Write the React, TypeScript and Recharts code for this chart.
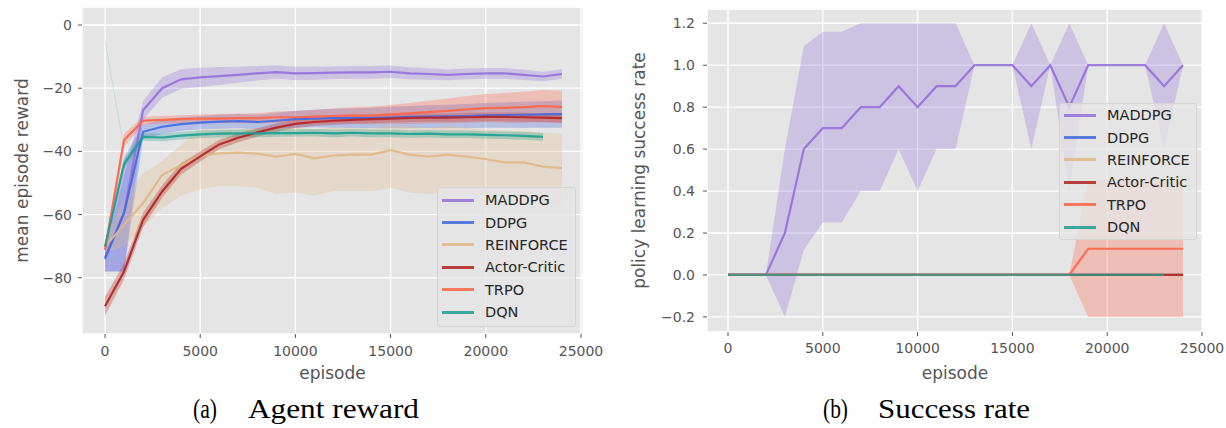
import {
  ComposedChart,
  Line,
  Area,
  XAxis,
  YAxis,
  CartesianGrid,
  Legend,
  Label,
} from "recharts";

const episodes = [0, 1000, 2000, 3000, 4000, 5000, 6000, 7000, 8000, 9000, 10000, 11000, 12000, 13000, 14000, 15000, 16000, 17000, 18000, 19000, 20000, 21000, 22000, 23000, 24000];

const seriesKeys = ["maddpg", "ddpg", "reinforce", "ac", "trpo", "dqn"];
const seriesNames = ["MADDPG", "DDPG", "REINFORCE", "Actor-Critic", "TRPO", "DQN"];
const seriesColors = ["#9370DB", "#4169E1", "#DEB887", "#B22222", "#FF6347", "#1F9E90"];

// (a) agent reward: mean and shaded band
const maddpgReward = [-73.5, -59.5, -27, -20, -17.2, -16.6, -16.2, -15.8, -15.3, -14.9, -15.3, -15.2, -15.1, -15, -15, -14.8, -15.3, -15.5, -15.8, -15.5, -15.3, -15.3, -15.8, -16.3, -15.5];
const maddpgRewardLo = [-78, -78, -30, -23, -20.2, -19.6, -19, -18.3, -17.6, -17, -17.4, -17.3, -17.1, -17, -17, -16.8, -17.2, -17.3, -17.5, -17.2, -17, -17, -17.4, -17.8, -17];
const maddpgRewardHi = [-70, -48, -24, -16.5, -14, -13.5, -13.3, -13.2, -13, -12.8, -13.2, -13.1, -13.1, -13, -13, -12.8, -13.4, -13.7, -14.1, -13.8, -13.6, -13.6, -14.2, -14.8, -14];

const ddpgReward = [-74, -59.5, -33.8, -32.2, -31.4, -30.9, -30.6, -30.4, -30.7, -30.3, -29.8, -29.6, -29.5, -29.5, -29.4, -29.3, -29.1, -29, -28.9, -28.8, -28.6, -28.5, -28.4, -28.3, -28.2];
const ddpgRewardLo = [-78, -78, -36, -34.5, -33.5, -33, -32.8, -32.7, -33, -32.8, -32.5, -32.4, -32.5, -32.6, -32.6, -32.7, -32.6, -32.6, -32.6, -32.6, -32.5, -32.5, -32.5, -32.5, -32.5];
const ddpgRewardHi = [-70, -42, -31.5, -30, -29.3, -28.8, -28.4, -28.2, -28.4, -27.8, -27.1, -26.8, -26.5, -26.4, -26.2, -25.9, -25.6, -25.4, -25.2, -25, -24.7, -24.5, -24.3, -24.1, -23.9];

const reinforceReward = [-70, -63.3, -56.4, -47.5, -44.3, -41.5, -40.6, -40.4, -40.7, -41.7, -40.8, -42.2, -41.3, -41, -41, -39.6, -41, -41.7, -41, -41.7, -42.4, -43.5, -43.5, -44.8, -45.3];
const reinforceRewardLo = [-72, -70, -64, -58, -54, -52, -51, -51, -51.5, -53.5, -53, -54, -52.5, -52.5, -52.5, -51.5, -53, -53.5, -53, -53.5, -54, -54.5, -55, -56, -56.5];
const reinforceRewardHi = [-68, -55, -47, -43, -38, -33, -33, -33, -32.5, -33, -32.5, -33, -32.5, -32.5, -32.5, -31.5, -32, -32.5, -32, -32.5, -33, -33.5, -33.5, -34, -34.5];

const acReward = [-89, -78, -61.7, -52.7, -45.5, -41.6, -37.8, -35.7, -34, -32.5, -31.3, -30.7, -30.3, -30, -29.8, -29.6, -29.4, -29.3, -29.3, -29.2, -29.1, -29.1, -29.2, -29.3, -29.5];
const acRewardLo = [-92, -80.5, -64, -54.7, -47.3, -43.2, -39.3, -37.1, -35.3, -33.8, -32.6, -32, -31.6, -31.3, -31.1, -30.9, -30.7, -30.6, -30.6, -30.6, -30.5, -30.5, -30.6, -30.7, -30.9];
const acRewardHi = [-86, -75.5, -59.4, -50.7, -43.7, -40, -36.3, -34.3, -32.7, -31.2, -30, -29.4, -29, -28.7, -28.5, -28.3, -28.1, -28, -28, -27.8, -27.7, -27.7, -27.8, -27.9, -28.1];

const trpoReward = [-71.2, -36.4, -30.3, -30, -29.8, -29.6, -29.6, -29.5, -29.5, -29.2, -29.2, -29, -28.8, -28.6, -28.6, -28.3, -28, -27.6, -27.2, -26.7, -26.3, -26.2, -26, -25.7, -25.9];
const trpoRewardLo = [-73, -38.5, -31.5, -31.2, -31, -30.9, -31, -31, -31.1, -31, -31.2, -31.2, -31.2, -31.2, -31.4, -31.3, -31.3, -31.2, -31.1, -30.9, -30.8, -30.9, -30.9, -30.8, -31];
const trpoRewardHi = [-69.5, -34.5, -29, -28.8, -28.6, -28.3, -28.2, -28, -27.9, -27.4, -27.2, -26.8, -26.4, -26, -25.8, -25.3, -24.7, -24, -23.3, -22.5, -21.8, -21.5, -21.1, -20.6, -20.8];

const dqnReward = [-70.2, -44, -35.4, -35.6, -35, -34.6, -34.4, -34.3, -34.3, -34.2, -34.2, -34.1, -34.3, -34.1, -34.3, -34.3, -34.5, -34.4, -34.6, -34.6, -34.8, -34.9, -35.1, -35.4];
const dqnRewardLo = [-71.4, -45.5, -36.6, -36.8, -36.2, -35.8, -35.6, -35.5, -35.5, -35.4, -35.4, -35.3, -35.5, -35.3, -35.5, -35.5, -35.7, -35.6, -35.8, -35.8, -36, -36.1, -36.3, -36.6];
const dqnRewardHi = [-69, -42.5, -34.2, -34.4, -33.8, -33.4, -33.2, -33.1, -33.1, -33, -33, -32.9, -33.1, -32.9, -33.1, -33.1, -33.3, -33.2, -33.4, -33.4, -33.6, -33.7, -33.9, -34.2];
const dqnRewardSpike = [-5, -39];

// (b) success rate
const maddpgSuccess = [0, 0, 0, 0.2, 0.6, 0.7, 0.7, 0.8, 0.8, 0.9, 0.8, 0.9, 0.9, 1, 1, 1, 0.9, 1, 0.8, 1, 1, 1, 1, 0.9, 1];
const maddpgSuccessLo = [0, 0, 0, -0.2, 0.12, 0.25, 0.25, 0.4, 0.4, 0.6, 0.4, 0.6, 0.6, 1, 1, 1, 0.6, 1, 0.4, 1, 1, 1, 1, 0.6, 1];
const maddpgSuccessHi = [0, 0, 0, 0.6, 1.09, 1.16, 1.16, 1.2, 1.2, 1.2, 1.2, 1.2, 1.2, 1, 1, 1, 1.2, 1, 1.2, 1, 1, 1, 1, 1.2, 1];
const ddpgSuccess = [0, 0, 0, 0, 0, 0, 0, 0, 0, 0, 0, 0, 0, 0, 0, 0, 0, 0, 0, 0, 0, 0, 0, 0, 0];
const reinforceSuccess = [0, 0, 0, 0, 0, 0, 0, 0, 0, 0, 0, 0, 0, 0, 0, 0, 0, 0, 0, 0, 0, 0, 0, 0, 0];
const acSuccess = [0, 0, 0, 0, 0, 0, 0, 0, 0, 0, 0, 0, 0, 0, 0, 0, 0, 0, 0, 0, 0, 0, 0, 0, 0];
const trpoSuccess = [0, 0, 0, 0, 0, 0, 0, 0, 0, 0, 0, 0, 0, 0, 0, 0, 0, 0, 0, 0.125, 0.125, 0.125, 0.125, 0.125, 0.125];
const trpoSuccessLo = [0, 0, 0, 0, 0, 0, 0, 0, 0, 0, 0, 0, 0, 0, 0, 0, 0, 0, 0, -0.2, -0.2, -0.2, -0.2, -0.2, -0.2];
const trpoSuccessHi = [0, 0, 0, 0, 0, 0, 0, 0, 0, 0, 0, 0, 0, 0, 0, 0, 0, 0, 0, 0.45, 0.45, 0.45, 0.45, 0.45, 0.45];
const dqnSuccess = [0, 0, 0, 0, 0, 0, 0, 0, 0, 0, 0, 0, 0, 0, 0, 0, 0, 0, 0, 0, 0, 0, 0, 0];

const rewardTicksX = [0, 5000, 10000, 15000, 20000, 25000];
const rewardTicksY = [-80, -60, -40, -20, 0];
const successTicksY = [-0.2, 0, 0.2, 0.4, 0.6, 0.8, 1.0, 1.2];

type Num = number | undefined;

function buildRows(means: Num[][], los: (Num[] | null)[], his: (Num[] | null)[], spike?: number[]) {
  return episodes.map((episode, i) => {
    const row: Record<string, unknown> = { episode };
    seriesKeys.forEach((k, s) => {
      const v = means[s][i];
      row[k] = v === undefined ? null : v;
      const lo = los[s];
      const hi = his[s];
      if (lo && hi && lo[i] !== undefined && hi[i] !== undefined) row[k + "Band"] = [lo[i], hi[i]];
    });
    if (spike && spike[i] !== undefined) row.spike = spike[i];
    return row;
  });
}

const rewardRows = buildRows(
  [maddpgReward, ddpgReward, reinforceReward, acReward, trpoReward, dqnReward],
  [maddpgRewardLo, ddpgRewardLo, reinforceRewardLo, acRewardLo, trpoRewardLo, dqnRewardLo],
  [maddpgRewardHi, ddpgRewardHi, reinforceRewardHi, acRewardHi, trpoRewardHi, dqnRewardHi],
  dqnRewardSpike
);

const successRows = buildRows(
  [maddpgSuccess, ddpgSuccess, reinforceSuccess, acSuccess, trpoSuccess, dqnSuccess],
  [maddpgSuccessLo, null, null, null, trpoSuccessLo, null],
  [maddpgSuccessHi, null, null, null, trpoSuccessHi, null]
);

const sans = "'DejaVu Sans', sans-serif";
const minus = (s: string) => s.replace("-", "\u2212");

function LegendBox({ padTop }: { padTop: number }) {
  return (
    <div
      style={{
        boxSizing: "border-box",
        width: "100%",
        height: "100%",
        background: "rgba(229,229,229,0.8)",
        border: "1px solid #d4d4d4",
        borderRadius: 3,
        paddingTop: padTop,
        paddingLeft: 4,
        fontFamily: sans,
        fontSize: 14.5,
        color: "#262626",
      }}
    >
      {seriesNames.map((name, i) => (
        <div key={name} style={{ display: "flex", alignItems: "center", height: 22.4 }}>
          <span style={{ display: "inline-block", width: 32, height: 3, background: seriesColors[i], opacity: 0.85, marginRight: 11 }} />
          <span>{name}</span>
        </div>
      ))}
    </div>
  );
}

interface PanelProps {
  rows: Record<string, unknown>[];
  width: number;
  margin: { top: number; right: number; bottom: number; left: number };
  yWidth: number;
  xDomain: [number, number];
  yDomain: [number, number];
  yTicks: number[];
  yFormat: (v: number) => string;
  yLabel: string;
  yLabelOffset: number;
  yTickMargin: number;
  xLabelOffset: number;
  xTickMargin: number;
  legend: { left: number; top: number; width: number; height: number; padTop: number };
  bands: string[];
  lineOpacity: number[];
  spike?: boolean;
}

function Panel(p: PanelProps) {
  return (
    <ComposedChart width={p.width} height={390} data={p.rows} margin={p.margin}>
      <CartesianGrid fill="#E5E5E5" stroke="#FFFFFF" strokeWidth={1.3} />
      <XAxis
        dataKey="episode"
        type="number"
        domain={p.xDomain}
        ticks={rewardTicksX}
        allowDataOverflow
        axisLine={false}
        tickLine={{ stroke: "#555" }}
        tickSize={4}
        tickMargin={p.xTickMargin}
        height={50}
        tick={{ fill: "#555", fontSize: 14, fontFamily: sans }}
      >
        <Label value="episode" position="insideBottom" offset={p.xLabelOffset} style={{ fill: "#555", fontSize: 17, fontFamily: sans }} />
      </XAxis>
      <YAxis
        type="number"
        domain={p.yDomain}
        ticks={p.yTicks}
        allowDataOverflow
        axisLine={false}
        tickLine={{ stroke: "#555" }}
        tickSize={4}
        tickMargin={p.yTickMargin}
        width={p.yWidth}
        tickFormatter={p.yFormat}
        tick={{ fill: "#555", fontSize: 14, fontFamily: sans }}
      >
        <Label
          value={p.yLabel}
          angle={-90}
          position="insideLeft"
          offset={p.yLabelOffset}
          style={{ fill: "#555", fontSize: 17, fontFamily: sans, textAnchor: "middle" }}
        />
      </YAxis>
      {seriesKeys.map((k, i) =>
        p.bands.includes(k) ? (
          <Area
            key={k + "Band"}
            dataKey={k + "Band"}
            type="linear"
            stroke="none"
            fill={seriesColors[i]}
            fillOpacity={0.3}
            legendType="none"
            dot={false}
            activeDot={false}
            isAnimationActive={false}
          />
        ) : null
      )}
      {p.spike ? (
        <Line
          dataKey="spike"
          type="linear"
          stroke={seriesColors[5]}
          strokeOpacity={0.15}
          strokeWidth={1}
          dot={false}
          activeDot={false}
          legendType="none"
          isAnimationActive={false}
        />
      ) : null}
      {seriesKeys.map((k, i) => (
        <Line
          key={k}
          dataKey={k}
          name={seriesNames[i]}
          type="linear"
          stroke={seriesColors[i]}
          strokeOpacity={p.lineOpacity[i]}
          strokeWidth={2.2}
          dot={false}
          activeDot={false}
          isAnimationActive={false}
        />
      ))}
      <Legend
        layout="horizontal"
        verticalAlign="middle"
        align="center"
        width={p.legend.width}
        height={p.legend.height}
        wrapperStyle={{ left: p.legend.left, top: p.legend.top, width: p.legend.width, height: p.legend.height }}
        content={() => <LegendBox padTop={p.legend.padTop} />}
      />
    </ComposedChart>
  );
}

export default function App() {
  return (
    <div style={{ position: "absolute", left: 0, top: 0, width: 1226, height: 428, background: "#fff" }}>
      <div style={{ position: "absolute", left: 0, top: 0 }}>
        <Panel
          rows={rewardRows}
          width={615}
          margin={{ top: 7, right: 32, bottom: 6, left: 22 }}
          yWidth={60}
          xDomain={[-1208, 25105]}
          yDomain={[-97.8, 5.7]}
          yTicks={rewardTicksY}
          yFormat={(v) => minus(String(v))}
          yLabel="mean episode reward"
          yLabelOffset={0}
          yTickMargin={6}
          xLabelOffset={5}
          xTickMargin={8}
          legend={{ left: 437, top: 187, width: 139, height: 140, padTop: 1 }}
          bands={seriesKeys}
          lineOpacity={[0.9, 0.9, 0.9, 0.9, 0.9, 0.9]}
          spike
        />
      </div>
      <div style={{ position: "absolute", left: 600, top: 0 }}>
        <Panel
          rows={successRows}
          width={626}
          margin={{ top: 9, right: 23, bottom: 8, left: 37 }}
          yWidth={70}
          xDomain={[-1108, 25053]}
          yDomain={[-0.272, 1.268]}
          yTicks={successTicksY}
          yFormat={(v) => minus(v.toFixed(1))}
          yLabel="policy learning success rate"
          yLabelOffset={2}
          yTickMargin={8}
          xLabelOffset={3}
          xTickMargin={7}
          legend={{ left: 459, top: 103, width: 138, height: 137, padTop: 0 }}
          bands={["maddpg", "trpo"]}
          lineOpacity={[0.9, 0.9, 0.9, 0.9, 0.9, 0.75]}
        />
      </div>
      <svg width={1226} height={428} style={{ position: "absolute", left: 0, top: 0, pointerEvents: "none" }}>
        <g fontFamily="'Liberation Serif', serif" fontSize={27} fill="#000">
          <text x={193} y={418} textLength={24} lengthAdjust="spacingAndGlyphs">(a)</text>
          <text x={248} y={418} textLength={171} lengthAdjust="spacingAndGlyphs">Agent reward</text>
          <text x={823} y={418} textLength={25} lengthAdjust="spacingAndGlyphs">(b)</text>
          <text x={878} y={418} textLength={152} lengthAdjust="spacingAndGlyphs">Success rate</text>
        </g>
      </svg>
    </div>
  );
}
